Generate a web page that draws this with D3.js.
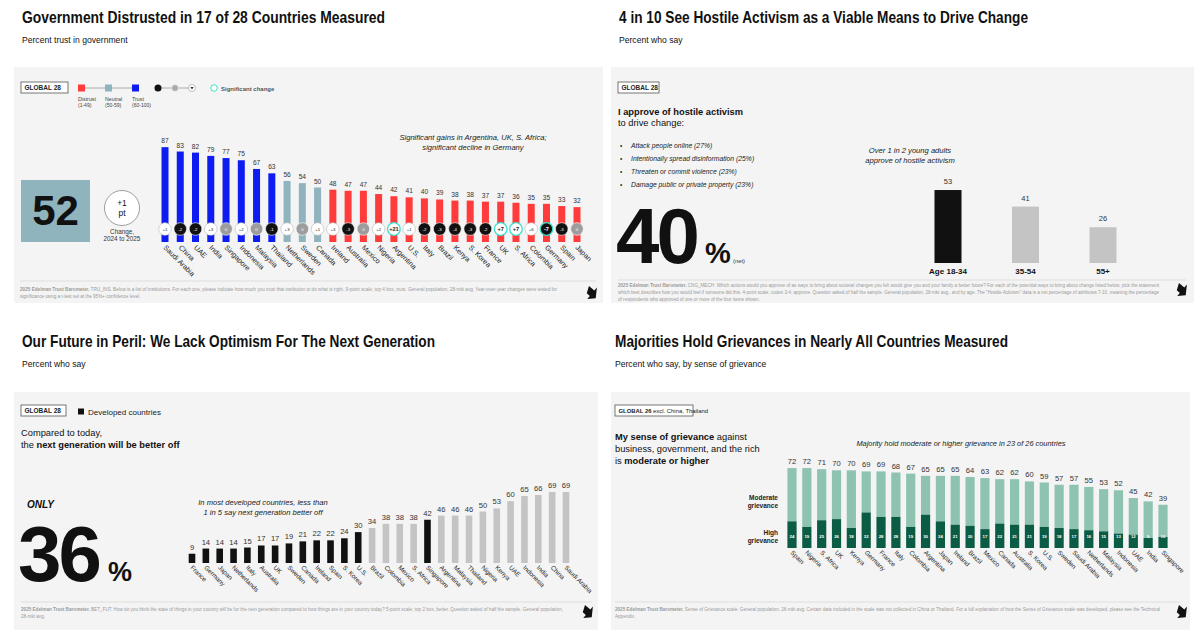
<!DOCTYPE html>
<meta charset="utf-8">
<style>
body { margin: 0; background: #fff; }
svg text { font-family: "Liberation Sans", Arial, helvetica, sans-serif; }
</style>
<body>
<script src="https://cdn.jsdelivr.net/npm/d3@7"></script>
<script>

// ---- data: trust in government (top left) ----
var trustCountries = ["Saudi Arabia", "China", "UAE", "India", "Singapore", "Indonesia", "Malaysia", "Thailand",
  "Netherlands", "Sweden", "Canada", "Ireland", "Australia", "Mexico", "Nigeria", "Argentina", "U.S.", "Italy",
  "Brazil", "Kenya", "S. Korea", "France", "UK", "S. Africa", "Colombia", "Germany", "Spain", "Japan"];
var trustValues = [87, 83, 82, 79, 77, 75, 67, 63, 56, 54, 50, 48, 47, 47, 44, 42, 41, 40, 39, 38, 38, 37, 37, 36, 35, 35, 33, 32];
var trustChange = [1, -2, -2, 3, 0, 2, 0, -1, 3, 0, 1, 3, -3, 0, 2, 21, 1, -2, -3, -4, -3, -2, 7, 7, 6, -7, -3, 0];
var trustSignificant = ["Argentina", "UK", "S. Africa", "Germany"];
var trustGlobal = 52, trustGlobalChange = 1;

// ---- data: hostile activism (top right) ----
var activismAges = ["Age 18-34", "35-54", "55+"];
var activismValues = [53, 41, 26];
var activismItems = ["Attack people online (27%)", "Intentionally spread disinformation (25%)",
  "Threaten or commit violence (23%)", "Damage public or private property (23%)"];
var activismNet = 40;

// ---- data: next generation better off (bottom left) ----
var futureCountries = ["France", "Germany", "Japan", "Netherlands", "Italy", "Australia", "UK", "Sweden", "Canada",
  "Ireland", "Spain", "S. Korea", "U.S.", "Brazil", "Colombia", "Mexico", "S. Africa", "Singapore", "Argentina",
  "Malaysia", "Thailand", "Nigeria", "Kenya", "UAE", "Indonesia", "India", "China", "Saudi Arabia"];
var futureValues = [9, 14, 14, 14, 15, 17, 17, 19, 21, 22, 22, 24, 30, 34, 38, 38, 38, 42, 46, 46, 46, 50, 53, 60, 65, 66, 69, 69];
var developed = ["France", "Germany", "Japan", "Netherlands", "Italy", "Australia", "UK", "Sweden", "Canada",
  "Ireland", "Spain", "S. Korea", "U.S.", "Singapore"];
var futureGlobal = 36;

// ---- data: grievance (bottom right) ----
var grievCountries = ["Spain", "Nigeria", "S. Africa", "UK", "Kenya", "Germany", "France", "Italy", "Colombia",
  "Argentina", "Japan", "Ireland", "Brazil", "Mexico", "Canada", "Australia", "S. Korea", "U.S.", "Sweden",
  "Saudi Arabia", "Netherlands", "Malaysia", "Indonesia", "UAE", "India", "Singapore"];
var grievTotal = [72, 72, 71, 70, 70, 69, 69, 68, 67, 65, 65, 65, 64, 63, 62, 62, 60, 59, 57, 57, 55, 53, 52, 45, 42, 39];
var grievHigh = [24, 19, 25, 26, 18, 32, 28, 28, 19, 30, 24, 21, 20, 17, 22, 21, 21, 19, 18, 17, 16, 15, 13, 12, 9, 10];

// colours
var cBlue = "#0d1cf0", cNeutral = "#8fb4be", cRed = "#ff3b3b";
var cBlack = "#111", cGrey = "#c4c4c4";
var cModerate = "#8fc3b1", cHigh = "#0b5c45", cTeal = "#3fe0cc";

var svg = d3.select("body").append("svg").attr("width", 1200).attr("height", 633);

// small helpers
function text(g, x, y, s, size, opts) {
  opts = opts || {};
  var t = g.append("text").attr("x", x).attr("y", y).text(s)
    .style("font-size", size + "px")
    .attr("fill", opts.fill || "#111")
    .attr("text-anchor", opts.anchor || "start");
  if (opts.bold) t.style("font-weight", "bold");
  if (opts.italic) t.style("font-style", "italic");
  return t;
}
function rich(g, x, y, parts, size, fill) {
  var t = g.append("text").attr("x", x).attr("y", y).style("font-size", size + "px").attr("fill", fill || "#111");
  parts.forEach(function(p) {
    t.append("tspan").text(p[0]).style("font-weight", p[1] ? "bold" : "normal");
  });
  return t;
}
function title(g, x, s, w, top) {
  text(g, x, top + 23, s[0], 16.5, { bold: true })
    .attr("textLength", w).attr("lengthAdjust", "spacingAndGlyphs");
  text(g, x, top + 43, s[1], 8.6);
}
function panel(g, x, y, w, h) {
  g.append("rect").attr("x", x).attr("y", y).attr("width", w).attr("height", h).attr("fill", "#f4f4f4");
}
function globalBox(g, x, y, w, parts, size) {
  g.append("rect").attr("x", x).attr("y", y).attr("width", w).attr("height", 11)
    .attr("fill", "#fff").attr("stroke", "#555").attr("stroke-width", 0.8);
  rich(g, x + 3.5, y + 8, parts, size || 6.5, "#222");
}
function footnote(g, x, y, lines, lineW, sepX1, sepX2, sepY) {
  g.append("line").attr("x1", sepX1).attr("x2", sepX2).attr("y1", sepY).attr("y2", sepY)
    .attr("stroke", "#dedede").attr("stroke-width", 1);
  lines.forEach(function(l, i) {
    var t = g.append("text").attr("x", x).attr("y", y + i * 7).style("font-size", "4.6px").attr("fill", "#9a9a9a");
    if (i === 0) t.append("tspan").text("2025 Edelman Trust Barometer.").style("font-weight", "bold");
    t.append("tspan").text(l);
    if (lineW[i]) t.attr("textLength", lineW[i]).attr("lengthAdjust", "spacingAndGlyphs");
  });
}
function arrowIcon(g, x, y) {
  g.append("path")
    .attr("d", "M" + (x - 6) + "," + (y - 4) + " L" + (x + 1) + "," + (y - 4) + " L" + (x + 1) + "," + (y - 8) +
      " L" + (x + 7) + "," + (y + 1) + " L" + (x + 1) + "," + (y + 7) + " L" + (x + 1) + "," + (y + 3) +
      " L" + (x - 3) + "," + (y + 3) + " Z")
    .attr("fill", "#111").attr("transform", "rotate(40," + x + "," + y + ")");
}
function countryLabels(g, xs, names, y0, size) {
  g.selectAll(null).data(names).enter().append("text")
    .attr("transform", function(d) { return "translate(" + (xs(d) - 2) + "," + y0 + ") rotate(45)"; })
    .style("font-size", size + "px").attr("fill", "#222")
    .text(function(d) { return d; });
}

// ================= TOP LEFT =================
var tl = svg.append("g");
title(tl, 22, ["Government Distrusted in 17 of 28 Countries Measured", "Percent trust in government"], 363, 0);
panel(tl, 14, 67, 589, 236);
globalBox(tl, 21, 82, 47, [["GLOBAL 28", 1]]);

// legend squares
tl.append("line").attr("x1", 82).attr("x2", 136).attr("y1", 88).attr("y2", 88).attr("stroke", "#999").attr("stroke-width", 0.8);
[["Distrust", "(1-49)", cRed, 78], ["Neutral", "(50-59)", cNeutral, 105], ["Trust", "(60-100)", cBlue, 132]].forEach(function(l) {
  tl.append("rect").attr("x", l[3]).attr("y", 84.5).attr("width", 7).attr("height", 7).attr("fill", l[2]);
  text(tl, l[3], 101, l[0], 5.3, { fill: "#444" });
  text(tl, l[3], 107, l[1], 5, { fill: "#444" });
});
tl.append("line").attr("x1", 158).attr("x2", 192).attr("y1", 88).attr("y2", 88).attr("stroke", "#999").attr("stroke-width", 0.8);
tl.append("circle").attr("cx", 158).attr("cy", 88).attr("r", 3.5).attr("fill", "#111");
tl.append("circle").attr("cx", 175).attr("cy", 88).attr("r", 3.5).attr("fill", "#aaa").attr("stroke", "#fff").attr("stroke-width", 0.6);
tl.append("circle").attr("cx", 192).attr("cy", 88).attr("r", 3.5).attr("fill", "#fff").attr("stroke", "#999").attr("stroke-width", 0.6);
tl.append("path").attr("d", "M190.3,87 L193.7,87 L192,89.5 Z").attr("fill", "#333");
tl.append("circle").attr("cx", 214).attr("cy", 88).attr("r", 3.3).attr("fill", "#fff").attr("stroke", cTeal).attr("stroke-width", 1);
text(tl, 221, 90.5, "Significant change", 6, { bold: true, fill: "#555" });

// global 52 box + change
tl.append("rect").attr("x", 21).attr("y", 180).attr("width", 69).attr("height", 62).attr("fill", cNeutral);
text(tl, 55.5, 225, trustGlobal, 42, { bold: true, anchor: "middle" });
tl.append("circle").attr("cx", 122).attr("cy", 208).attr("r", 17.5).attr("fill", "#fff").attr("stroke", "#777").attr("stroke-width", 0.7);
text(tl, 122, 206, "+" + trustGlobalChange, 8.5, { anchor: "middle" });
text(tl, 122, 216, "pt", 8.5, { anchor: "middle" });
text(tl, 122, 234, "Change,", 6.3, { anchor: "middle", fill: "#333" });
text(tl, 122, 241, "2024 to 2025", 6.3, { anchor: "middle", fill: "#333" });

text(tl, 473, 140, "Significant gains in Argentina, UK, S. Africa;", 7.6, { italic: true, anchor: "middle", fill: "#222" });
text(tl, 473, 149.5, "significant decline in Germany", 7.6, { italic: true, anchor: "middle", fill: "#222" });

var xT = d3.scalePoint().domain(trustCountries).range([165, 577]);
var yT = d3.scaleLinear().domain([0, 100]).range([242, 133]);
var trustColor = function(v) { return v < 50 ? cRed : (v < 60 ? cNeutral : cBlue); };
var trustData = trustCountries.map(function(c, i) { return { c: c, v: trustValues[i], ch: trustChange[i] }; });

tl.selectAll(".tbar").data(trustData).enter().append("rect")
  .attr("x", function(d) { return xT(d.c) - 3.5; }).attr("width", 7)
  .attr("y", function(d) { return yT(d.v); }).attr("height", function(d) { return yT(0) - yT(d.v); })
  .attr("fill", function(d) { return trustColor(d.v); });
tl.selectAll(".tval").data(trustData).enter().append("text")
  .attr("x", function(d) { return xT(d.c); }).attr("y", function(d) { return yT(d.v) - 4; })
  .attr("text-anchor", "middle").style("font-size", "6.6px").attr("fill", "#333")
  .text(function(d) { return d.v; });
var chg = tl.selectAll(".tchg").data(trustData).enter().append("g")
  .attr("transform", function(d) { return "translate(" + xT(d.c) + ",229)"; });
chg.append("circle").attr("r", 6.3)
  .attr("fill", function(d) { return d.ch > 0 ? "#fff" : (d.ch < 0 ? "#111" : "#9d9d9d"); })
  .attr("stroke", function(d) { return trustSignificant.indexOf(d.c) >= 0 ? cTeal : (d.ch > 0 ? "#bbb" : "#fff"); })
  .attr("stroke-width", function(d) { return trustSignificant.indexOf(d.c) >= 0 ? 1.3 : 0.6; });
chg.append("text").attr("y", 1.7).attr("text-anchor", "middle")
  .style("font-size", function(d) { return trustSignificant.indexOf(d.c) >= 0 ? "5.6px" : "4.3px"; })
  .style("font-weight", function(d) { return trustSignificant.indexOf(d.c) >= 0 ? "bold" : "normal"; })
  .attr("fill", function(d) { return d.ch > 0 ? "#222" : "#fff"; })
  .text(function(d) { return d.ch > 0 ? "+" + d.ch : d.ch; });
countryLabels(tl, xT, trustCountries, 248, 7.2);

footnote(tl, 20, 291, [
  " TRU_INS. Below is a list of institutions. For each one, please indicate how much you trust that institution to do what is right. 9-point scale; top 4 box, trust. General population, 28-mkt avg. Year-over-year changes were tested for",
  "significance using a t-test set at the 95%+ confidence level."], [537, 0], 20, 596, 281);
arrowIcon(tl, 591, 293);

// ================= TOP RIGHT =================
var tr = svg.append("g");
title(tr, 619, ["4 in 10 See Hostile Activism as a Viable Means to Drive Change", "Percent who say"], 409, 0);
panel(tr, 611, 67, 583, 236);
globalBox(tr, 618, 82, 41, [["GLOBAL 28", 1]]);
text(tr, 618, 115, "I approve of hostile activism", 9.3, { bold: true });
text(tr, 618, 126, "to drive change:", 9.3);
activismItems.forEach(function(s, i) {
  text(tr, 620, 148 + i * 13, "\u2022", 6.5, { fill: "#333" });
  text(tr, 631, 148 + i * 13, s, 6.8, { italic: true, fill: "#222" });
});
text(tr, 616, 263, activismNet, 78, { bold: true }).attr("letter-spacing", "-3");
text(tr, 705, 263, "%", 29, { bold: true });
text(tr, 733, 263, "(net)", 5.8, { fill: "#333" });
text(tr, 910, 153, "Over 1 in 2 young adults", 7.6, { italic: true, anchor: "middle", fill: "#222" });
text(tr, 910, 163, "approve of hostile activism", 7.6, { italic: true, anchor: "middle", fill: "#222" });

var xA = d3.scalePoint().domain(activismAges).range([948, 1103]);
var yA = d3.scaleLinear().domain([0, 60]).range([263, 180.4]);
var actData = activismAges.map(function(a, i) { return { a: a, v: activismValues[i] }; });
tr.selectAll(".abar").data(actData).enter().append("rect")
  .attr("x", function(d) { return xA(d.a) - 13.5; }).attr("width", 27)
  .attr("y", function(d) { return yA(d.v); }).attr("height", function(d) { return yA(0) - yA(d.v); })
  .attr("fill", function(d, i) { return i === 0 ? cBlack : cGrey; });
tr.selectAll(".aval").data(actData).enter().append("text")
  .attr("x", function(d) { return xA(d.a); }).attr("y", function(d) { return yA(d.v) - 6; })
  .attr("text-anchor", "middle").style("font-size", "7.5px").attr("fill", "#333")
  .text(function(d) { return d.v; });
tr.selectAll(".alab").data(actData).enter().append("text")
  .attr("x", function(d) { return xA(d.a); }).attr("y", 274)
  .attr("text-anchor", "middle").style("font-size", "8px").style("font-weight", "bold").attr("fill", "#111")
  .text(function(d) { return d.a; });

footnote(tr, 618, 287, [
  " CNG_MECH. Which actions would you approve of as ways to bring about societal changes you felt would give you and your family a better future? For each of the potential ways to bring about change listed below, pick the statement",
  "which best describes how you would feel if someone did this. 4-point scale; codes 3-4, approve. Question asked of half the sample. General population, 28-mkt avg., and by age. The \"Hostile Activism\" data is a net percentage of attributes 7-10, meaning the percentage",
  "of respondents who approved of one or more of the four items shown."], [541, 541, 0], 618, 1186, 280);
arrowIcon(tr, 1181, 290);

// ================= BOTTOM LEFT =================
var bl = svg.append("g");
title(bl, 22, ["Our Future in Peril: We Lack Optimism For The Next Generation", "Percent who say"], 413, 324);
panel(bl, 14, 392, 584, 238);
globalBox(bl, 21, 405, 45, [["GLOBAL 28", 1]]);
bl.append("rect").attr("x", 78).attr("y", 408.5).attr("width", 6).attr("height", 6).attr("fill", cBlack);
text(bl, 88, 414.5, "Developed countries", 8, { fill: "#222" });
text(bl, 21, 436, "Compared to today,", 9.3);
rich(bl, 21, 448, [["the ", 0], ["next generation will be better off", 1]], 9.3);
text(bl, 27, 508, "ONLY", 10, { bold: true, italic: true });
text(bl, 18, 581, futureGlobal, 78, { bold: true }).attr("letter-spacing", "-3");
text(bl, 108, 581, "%", 27, { bold: true });
text(bl, 263, 505, "In most developed countries, less than", 7.6, { italic: true, anchor: "middle", fill: "#222" });
text(bl, 263, 514.5, "1 in 5 say next generation better off", 7.6, { italic: true, anchor: "middle", fill: "#222" });

var xF = d3.scalePoint().domain(futureCountries).range([192, 566]);
var yF = d3.scaleLinear().domain([0, 100]).range([563, 460]);
var futData = futureCountries.map(function(c, i) { return { c: c, v: futureValues[i] }; });
bl.selectAll(".fbar").data(futData).enter().append("rect")
  .attr("x", function(d) { return xF(d.c) - 3.3; }).attr("width", 6.6)
  .attr("y", function(d) { return yF(d.v); }).attr("height", function(d) { return yF(0) - yF(d.v); })
  .attr("fill", function(d) { return developed.indexOf(d.c) >= 0 ? cBlack : cGrey; });
bl.selectAll(".fval").data(futData).enter().append("text")
  .attr("x", function(d) { return xF(d.c); }).attr("y", function(d) { return yF(d.v) - 4; })
  .attr("text-anchor", "middle").style("font-size", "7.6px").attr("fill", "#333")
  .text(function(d) { return d.v; });
countryLabels(bl, xF, futureCountries, 568, 6.4);

footnote(bl, 21, 611, [
  " BET_FUT. How do you think the state of things in your country will be for the next generation compared to how things are in your country today? 5-point scale; top 2 box, better. Question asked of half the sample. General population,",
  "28-mkt avg."], [542, 0], 21, 592, 602);
arrowIcon(bl, 587, 612);

// ================= BOTTOM RIGHT =================
var br = svg.append("g");
title(br, 615, ["Majorities Hold Grievances in Nearly All Countries Measured", "Percent who say, by sense of grievance"], 393, 324);
panel(br, 611, 392, 579, 238);
globalBox(br, 615, 405, 78, [["GLOBAL 26", 1], [" excl. China, Thailand", 0]], 5.9);
rich(br, 615, 440, [["My sense of grievance", 1], [" against", 0]], 9.3);
text(br, 615, 452, "business, government, and the rich", 9.3);
rich(br, 615, 464, [["is ", 0], ["moderate or higher", 1]], 9.3);
text(br, 778, 500, "Moderate", 6.5, { bold: true, anchor: "end", fill: "#222" });
text(br, 778, 508, "grievance", 6.5, { bold: true, anchor: "end", fill: "#222" });
text(br, 778, 535, "High", 6.5, { bold: true, anchor: "end", fill: "#222" });
text(br, 778, 543, "grievance", 6.5, { bold: true, anchor: "end", fill: "#222" });
text(br, 961, 446, "Majority hold moderate or higher grievance in 23 of 26 countries", 7.4, { italic: true, anchor: "middle", fill: "#222" });

var xG = d3.scalePoint().domain(grievCountries).range([792, 1163]);
var yG = d3.scaleLinear().domain([0, 100]).range([548, 437]);
var grvData = grievCountries.map(function(c, i) { return { c: c, t: grievTotal[i], h: grievHigh[i] }; });
br.selectAll(".gmod").data(grvData).enter().append("rect")
  .attr("x", function(d) { return xG(d.c) - 4.6; }).attr("width", 9.2)
  .attr("y", function(d) { return yG(d.t); }).attr("height", function(d) { return yG(d.h) - yG(d.t); })
  .attr("fill", cModerate);
br.selectAll(".ghigh").data(grvData).enter().append("rect")
  .attr("x", function(d) { return xG(d.c) - 4.6; }).attr("width", 9.2)
  .attr("y", function(d) { return yG(d.h); }).attr("height", function(d) { return yG(0) - yG(d.h); })
  .attr("fill", cHigh);
br.selectAll(".gtot").data(grvData).enter().append("text")
  .attr("x", function(d) { return xG(d.c); }).attr("y", function(d) { return yG(d.t) - 4; })
  .attr("text-anchor", "middle").style("font-size", "7.6px").attr("fill", "#333")
  .text(function(d) { return d.t; });
br.selectAll(".ghv").data(grvData).enter().append("text")
  .attr("x", function(d) { return xG(d.c); }).attr("y", 537.5)
  .attr("text-anchor", "middle").style("font-size", "4.3px").style("font-weight", "bold").attr("fill", "#fff")
  .text(function(d) { return d.h; });
countryLabels(br, xG, grievCountries, 553, 6.4);

footnote(br, 615, 611, [
  " Sense of Grievance scale. General population, 26-mkt avg. Certain data included in the scale was not collected in China or Thailand. For a full explanation of how the Sense of Grievance scale was developed, please see the Technical",
  "Appendix."], [545, 0], 615, 1180, 602);
arrowIcon(br, 1181, 612);

</script>
</body>
